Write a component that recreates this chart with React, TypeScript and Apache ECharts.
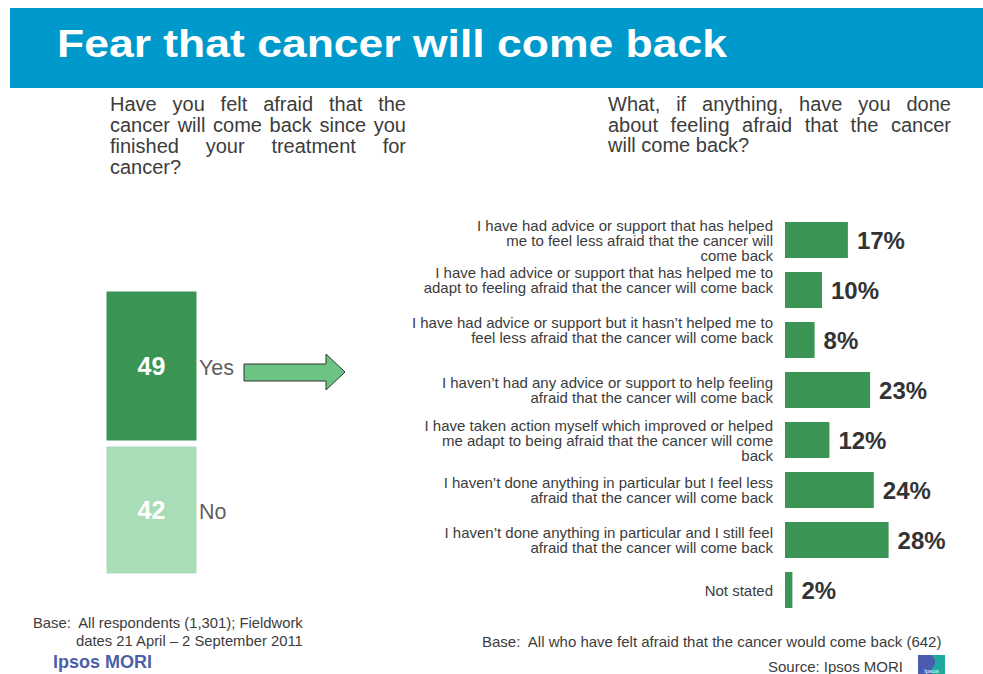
import React, { useEffect, useRef } from "react";
import * as echarts from "echarts";

const titleText = "Fear that cancer will come back";
const leftQuestion = [
  "Have you felt afraid that the",
  "cancer will come back since you",
  "finished your treatment for",
  "cancer?",
];
const rightQuestion = [
  "What, if anything, have you done",
  "about feeling afraid that the cancer",
  "will come back?",
];
const leftCategories = ["Yes", "No"];
const leftValues = [49, 42];
const rightCategories = [
  "I have had advice or support that has helped\nme to feel less afraid that the cancer will\ncome back",
  "I have had advice or support that has helped me to\nadapt to feeling afraid that the cancer will come back",
  "I have had advice or support but it hasn\u2019t helped me to\nfeel less afraid that the cancer will come back",
  "I haven\u2019t had any advice or support to help feeling\nafraid that the cancer will come back",
  "I have taken action myself which improved or helped\nme adapt to being afraid that the cancer will come\nback",
  "I haven\u2019t done anything in particular but I feel less\nafraid that the cancer will come back",
  "I haven\u2019t done anything in particular and I still feel\nafraid that the cancer will come back",
  "Not stated",
];
const rightValues = [17, 10, 8, 23, 12, 24, 28, 2];
const raisedLabels = [1, 2];
const footLeft1 = "Base:  All respondents (1,301); Fieldwork";
const footLeft2 = "dates 21 April \u2013 2 September 2011";
const footRight = "Base:  All who have felt afraid that the cancer would come back (642)";
const sourceText = "Source: Ipsos MORI";
const brandText = "Ipsos MORI";

const FONT = '"Liberation Sans", Arial, sans-serif';
const TEXT = "#3c3c3c";
const DARK = "#3a9454";
const LIGHT = "#a9ddb8";

function measure(text: string, size: number, weight = "normal") {
  const ctx = document.createElement("canvas").getContext("2d")!;
  ctx.font = `${weight} ${size}px "Liberation Sans"`;
  return ctx.measureText(text).width;
}

function justified(lines: string[], x: number, y0: number, w: number, lh: number, size: number) {
  const els: any[] = [];
  lines.forEach((line, i) => {
    const y = y0 + i * lh;
    const words = line.split(" ");
    const last = i === lines.length - 1;
    if (last || words.length < 2) {
      els.push({ type: "text", style: { text: line, x, y, fontSize: size, fontFamily: FONT, fill: TEXT, verticalAlign: "middle" } });
      return;
    }
    const widths = words.map((wd) => measure(wd, size));
    const total = widths.reduce((a, b) => a + b, 0);
    const gap = (w - total) / (words.length - 1);
    let cx = x;
    words.forEach((wd, k) => {
      els.push({ type: "text", style: { text: wd, x: cx, y, fontSize: size, fontFamily: FONT, fill: TEXT, verticalAlign: "middle" } });
      cx += widths[k] + gap;
    });
  });
  return els;
}

export default function App() {
  const ref = useRef<HTMLDivElement>(null);
  useEffect(() => {
    document.body.style.margin = "0";
    const chart = echarts.init(ref.current!, null, { renderer: "svg" });
    const titleW = measure(titleText, 38, "bold");
    const titleScale = 670 / titleW;

    // stacked: No at bottom, Yes on top
    const noVal = leftValues[1];
    const yesVal = leftValues[0];
    const total = noVal + yesVal;

    const option: any = {
      animation: false,
      backgroundColor: "#fff",
      textStyle: { fontFamily: FONT },
      grid: [
        { left: 103.5, top: 288.5, width: 96, height: 288 },
        { left: 785, top: 215, width: 185, height: 400 },
      ],
      xAxis: [
        { gridIndex: 0, type: "category", data: ["all"], show: false },
        { gridIndex: 1, type: "value", min: 0, max: 50, show: false },
      ],
      yAxis: [
        { gridIndex: 0, type: "value", min: 0, max: total, show: false },
        {
          gridIndex: 1,
          type: "category",
          inverse: true,
          data: rightCategories,
          axisLine: { show: false },
          axisTick: { show: false },
          splitLine: { show: false },
          axisLabel: {
            margin: 12,
            fontSize: 15,
            lineHeight: 15,
            color: TEXT,
            fontFamily: FONT,
            formatter: (v: string, i: number) => (raisedLabels.includes(i) ? `${v}\n{sp| }` : v),
            rich: { sp: { lineHeight: 20, fontSize: 1 } },
          },
        },
      ],
      series: [
        {
          type: "bar",
          name: leftCategories[1],
          xAxisIndex: 0,
          yAxisIndex: 0,
          stack: "a",
          barWidth: "100%",
          data: [noVal],
          itemStyle: { color: LIGHT, borderColor: "#fff", borderWidth: 3 },
          label: { show: true, position: "inside", color: "#fff", fontSize: 25, fontWeight: "bold", fontFamily: FONT },
        },
        {
          type: "bar",
          name: leftCategories[0],
          xAxisIndex: 0,
          yAxisIndex: 0,
          stack: "a",
          barWidth: "100%",
          data: [yesVal],
          itemStyle: { color: DARK, borderColor: "#fff", borderWidth: 3 },
          label: { show: true, position: "inside", color: "#fff", fontSize: 25, fontWeight: "bold", fontFamily: FONT },
        },
        {
          type: "scatter",
          xAxisIndex: 0,
          yAxisIndex: 0,
          symbolSize: 0,
          silent: true,
          data: [
            { value: [0, noVal + yesVal / 2], name: leftCategories[0] },
            { value: [0, noVal / 2], name: leftCategories[1] },
          ],
          label: {
            show: true,
            position: "right",
            distance: 47.5,
            formatter: "{b}",
            color: "#333",
            fontSize: 21.5,
            fontFamily: FONT,
            offset: [0, 2],
          },
        },
        {
          type: "bar",
          xAxisIndex: 1,
          yAxisIndex: 1,
          data: rightValues,
          barCategoryGap: "28%",
          itemStyle: { color: DARK },
          label: {
            show: true,
            position: "right",
            distance: 9,
            formatter: "{c}%",
            color: "#333",
            fontSize: 24,
            fontWeight: "bold",
            fontFamily: FONT,
          },
        },
      ],
      graphic: [
        { type: "rect", shape: { x: 10, y: 8, width: 973, height: 80 }, style: { fill: "#0099cc" } },
        {
          type: "text",
          x: 57,
          y: 44,
          scaleX: titleScale,
          style: { text: titleText, x: 0, y: 0, fontSize: 38, fontWeight: "bold", fontFamily: FONT, fill: "#fff", verticalAlign: "middle" },
        },
        ...justified(leftQuestion, 110, 104, 296, 21, 20),
        ...justified(rightQuestion, 608, 104, 343, 20.5, 20),
        {
          type: "polygon",
          shape: { points: [[244, 364], [326, 364], [326, 354], [345, 372], [326, 390], [326, 381], [244, 381]] },
          style: { fill: "#6cc484", stroke: "#333", lineWidth: 1 },
        },
        { type: "text", style: { text: footLeft1, x: 33, y: 623, fontSize: 14.8, fontFamily: FONT, fill: TEXT, verticalAlign: "middle" } },
        { type: "text", style: { text: footLeft2, x: 76, y: 641, fontSize: 14.8, fontFamily: FONT, fill: TEXT, verticalAlign: "middle" } },
        { type: "text", style: { text: footRight, x: 482, y: 641, fontSize: 15, fontFamily: FONT, fill: TEXT, verticalAlign: "middle" } },
        { type: "text", style: { text: sourceText, x: 903, y: 666, fontSize: 15, fontFamily: FONT, fill: TEXT, align: "right", verticalAlign: "middle" } },
        { type: "text", style: { text: brandText, x: 53, y: 662, fontSize: 18, fontWeight: "bold", fontFamily: FONT, fill: "#4c5fa8", verticalAlign: "middle" } },
        { type: "rect", shape: { x: 918, y: 655, width: 27, height: 19 }, style: { fill: "#4a5bb0" } },
        { type: "rect", shape: { x: 932, y: 655, width: 13, height: 19 }, style: { fill: "#1fa9a0" } },
        { type: "ellipse", shape: { cx: 931, cy: 662, rx: 4, ry: 6 }, style: { fill: "#4a5bb0" } },
        { type: "text", style: { text: "Ipsos", x: 931.5, y: 671, fontSize: 6, fontFamily: FONT, fill: "#fff", align: "center", verticalAlign: "middle" } },
      ],
    };
    chart.setOption(option);
    return () => chart.dispose();
  }, []);
  return <div ref={ref} style={{ width: 983, height: 674 }} />;
}
